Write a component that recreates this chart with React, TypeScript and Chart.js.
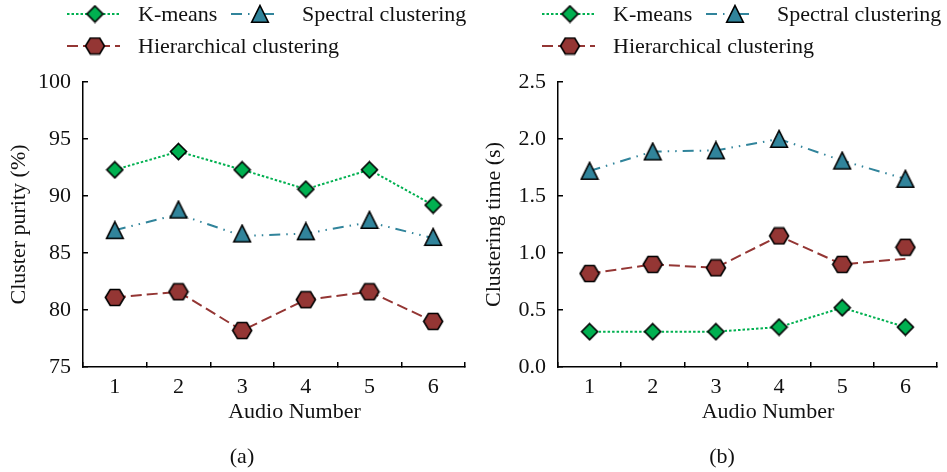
import React, { useEffect, useRef } from 'react';
import { Chart, registerables } from 'chart.js';

Chart.register(...registerables);

// ---------- data ----------
const audioLabels = ['1', '2', '3', '4', '5', '6'];

// (a) Cluster purity (%)
const purityKMeans = [92.3, 93.9, 92.3, 90.6, 92.3, 89.2];
const puritySpectralMarkers = [87.0, 88.8, 86.7, 86.9, 87.9, 86.4];
const puritySpectralLine = [87.0, 88.4, 86.5, 86.7, 87.7, 86.3];
const purityHierarchical = [81.1, 81.6, 78.2, 80.9, 81.6, 79.0];
const purityTicks = { min: 75, max: 100, step: 5 };

// (b) Clustering time (s)
const timeKMeans = [0.31, 0.31, 0.31, 0.35, 0.52, 0.35];
const timeSpectral = [1.72, 1.89, 1.9, 2.0, 1.81, 1.65];
const timeHierarchicalMarkers = [0.82, 0.9, 0.87, 1.15, 0.9, 1.05];
const timeHierarchicalLine = [0.82, 0.9, 0.87, 1.15, 0.9, 0.95];
const timeTicks = { min: 0, max: 2.5, step: 0.5 };

const seriesNames = ['K-means', 'Spectral clustering', 'Hierarchical clustering'];

// ---------- styles ----------
const GREEN = '#00b050';
const TEAL = '#31849b';
const BROWN = '#943634';
const INK = '#111111';
const FAMILY = "'Liberation Serif', 'Times New Roman', serif";
const FS = 22;

const DASH_KM = [2.5, 2];
const DASH_SP = [11, 6, 1.5, 6, 1.5, 6];
const DASH_HI = [11, 5];

function makeMarker(shape: string, fill: string): HTMLCanvasElement {
  const c = document.createElement('canvas');
  let ctx: CanvasRenderingContext2D;
  if (shape === 'diamond') {
    c.width = 19; c.height = 19;
    ctx = c.getContext('2d')!;
    ctx.beginPath();
    ctx.moveTo(9.5, 1.5); ctx.lineTo(17.5, 9.5); ctx.lineTo(9.5, 17.5); ctx.lineTo(1.5, 9.5);
  } else if (shape === 'triangle') {
    c.width = 20; c.height = 20;
    ctx = c.getContext('2d')!;
    ctx.beginPath();
    ctx.moveTo(10, 1.5); ctx.lineTo(18.3, 18.2); ctx.lineTo(1.7, 18.2);
  } else {
    c.width = 22; c.height = 19;
    ctx = c.getContext('2d')!;
    ctx.beginPath();
    ctx.moveTo(1.5, 9.5); ctx.lineTo(6.3, 1.5); ctx.lineTo(15.7, 1.5);
    ctx.lineTo(20.5, 9.5); ctx.lineTo(15.7, 17.5); ctx.lineTo(6.3, 17.5);
  }
  ctx.closePath();
  ctx.lineWidth = 1.6;
  ctx.strokeStyle = '#000';
  ctx.fillStyle = fill;
  ctx.fill();
  ctx.stroke();
  return c;
}

type PanelSpec = {
  yTitle: string;
  caption: string;
  captionX: number;
  ticks: { min: number; max: number; step: number };
  decimals: number;
  km: number[];
  kmLine: number[];
  sp: number[];
  spLine: number[];
  hi: number[];
  hiLine: number[];
  padRight: number;
};

function buildConfig(p: PanelSpec): any {
  const mD = makeMarker('diamond', GREEN);
  const mT = makeMarker('triangle', TEAL);
  const mH = makeMarker('hexagon', BROWN);

  const lineDs = (data: number[], color: string, dash: number[]) => ({
    data,
    borderColor: color,
    borderWidth: 2,
    borderDash: dash,
    pointRadius: 0,
    fill: false,
    tension: 0,
    order: 2,
  });
  const markDs = (data: number[], img: HTMLCanvasElement) => ({
    data,
    showLine: false,
    pointStyle: img,
    pointRadius: 9,
    order: 1,
  });

  const decor = {
    id: 'decor',
    afterDraw(chart: any) {
      const ctx = chart.ctx;
      const ca = chart.chartArea;
      ctx.save();
      const items = [
        { x1: 67, x2: 120, mx: 95, tx: 138, y: 14, color: GREEN, dash: DASH_KM, m: mD, t: seriesNames[0] },
        { x1: 231, x2: 280, mx: 260, tx: 302, y: 14, color: TEAL, dash: DASH_SP, m: mT, t: seriesNames[1] },
        { x1: 67, x2: 120, mx: 95, tx: 138, y: 46, color: BROWN, dash: DASH_HI, m: mH, t: seriesNames[2] },
      ];
      ctx.font = `${FS}px ${FAMILY}`;
      ctx.textBaseline = 'middle';
      ctx.textAlign = 'left';
      for (const it of items) {
        ctx.strokeStyle = it.color;
        ctx.lineWidth = 2;
        ctx.setLineDash(it.dash);
        ctx.beginPath();
        ctx.moveTo(it.x1, it.y);
        ctx.lineTo(it.x2, it.y);
        ctx.stroke();
        ctx.setLineDash([]);
        ctx.drawImage(it.m, it.mx - it.m.width / 2, it.y - it.m.height / 2);
        ctx.fillStyle = INK;
        ctx.fillText(it.t, it.tx, it.y + 1);
      }
      ctx.textAlign = 'center';
      ctx.fillStyle = INK;
      ctx.fillText('Audio Number', (ca.left + ca.right) / 2 + 20.5, ca.bottom + 45);
      ctx.fillText(p.caption, p.captionX, ca.bottom + 90);
      ctx.restore();
    },
  };

  const gridCommon = {
    display: true,
    drawOnChartArea: false,
    drawTicks: true,
    tickLength: -5,
    color: '#000',
    lineWidth: 1.5,
  };

  return {
    type: 'line',
    data: {
      labels: audioLabels,
      datasets: [
        lineDs(p.kmLine, GREEN, DASH_KM),
        lineDs(p.spLine, TEAL, DASH_SP),
        lineDs(p.hiLine, BROWN, DASH_HI),
        markDs(p.km, mD),
        markDs(p.sp, mT),
        markDs(p.hi, mH),
      ],
    },
    options: {
      responsive: false,
      animation: false,
      devicePixelRatio: 1,
      layout: { padding: { left: 0, right: p.padRight, top: 82, bottom: 0 } },
      plugins: { legend: { display: false }, tooltip: { enabled: false }, title: { display: false } },
      scales: {
        x: {
          type: 'category',
          offset: true,
          grid: { ...gridCommon, offset: true },
          border: { display: true, color: '#000', width: 1.5 },
          ticks: { color: INK, font: { family: FAMILY, size: FS }, padding: 12, maxRotation: 0, autoSkip: false },
          afterFit: (s: any) => { s.height = 105; },
        },
        y: {
          min: p.ticks.min,
          max: p.ticks.max,
          grid: { ...gridCommon },
          border: { display: true, color: '#000', width: 1.5 },
          ticks: {
            stepSize: p.ticks.step,
            color: INK,
            font: { family: FAMILY, size: FS },
            padding: 17,
            callback: (v: any) => Number(v).toFixed(p.decimals),
          },
          title: {
            display: true,
            text: p.yTitle,
            color: INK,
            font: { family: FAMILY, size: FS },
            padding: { top: 6, bottom: 0 },
          },
          afterFit: (s: any) => { s.width = 83; },
        },
      },
    },
    plugins: [decor],
  };
}

function Panel({ spec, left, width }: { spec: PanelSpec; left: number; width: number }) {
  const ref = useRef<HTMLCanvasElement>(null);
  useEffect(() => {
    const chart = new Chart(ref.current!, buildConfig(spec));
    return () => chart.destroy();
  }, []);
  return (
    <canvas
      ref={ref}
      width={width}
      height={472}
      style={{ position: 'absolute', left, top: 0, width, height: 472 }}
    />
  );
}

const panelA: PanelSpec = {
  yTitle: 'Cluster purity (%)',
  caption: '(a)',
  captionX: 242,
  ticks: purityTicks,
  decimals: 0,
  km: purityKMeans,
  kmLine: purityKMeans,
  sp: puritySpectralMarkers,
  spLine: puritySpectralLine,
  hi: purityHierarchical,
  hiLine: purityHierarchical,
  padRight: 8,
};

const panelB: PanelSpec = {
  yTitle: 'Clustering time (s)',
  caption: '(b)',
  captionX: 247,
  ticks: timeTicks,
  decimals: 1,
  km: timeKMeans,
  kmLine: timeKMeans,
  sp: timeSpectral,
  spLine: timeSpectral,
  hi: timeHierarchicalMarkers,
  hiLine: timeHierarchicalLine,
  padRight: 6,
};

export default function App() {
  return (
    <div style={{ position: 'fixed', left: 0, top: 0, width: 947, height: 472, background: '#fff', overflow: 'hidden' }}>
      <Panel spec={panelA} left={0} width={475} />
      <Panel spec={panelB} left={475} width={472} />
    </div>
  );
}
